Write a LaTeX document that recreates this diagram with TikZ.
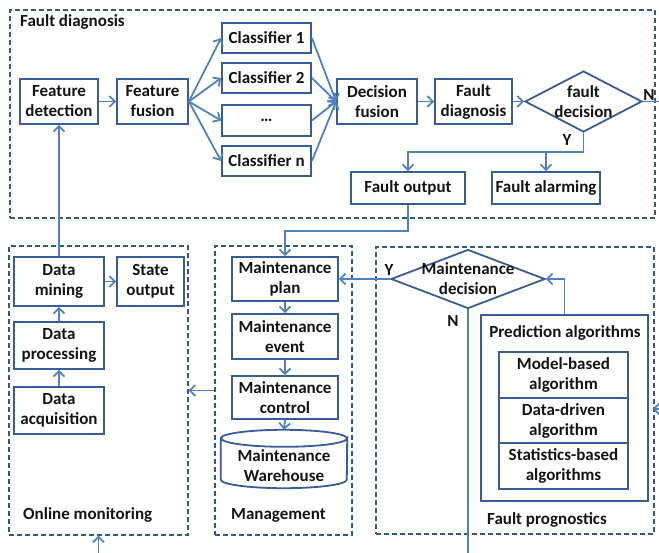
\documentclass[tikz,border=0pt]{standalone}
\usepackage{fontspec}
\setmainfont{Carlito}
\usetikzlibrary{arrows.meta,shapes.geometric,calc}
\definecolor{boxc}{RGB}{56,93,150}
\definecolor{arrc}{RGB}{79,129,189}
\definecolor{dashc}{RGB}{50,88,140}
\definecolor{txtc}{RGB}{20,20,20}
\begin{document}
\begin{tikzpicture}[x=1pt,y=-1pt,
  font=\fontsize{17}{20}\selectfont\bfseries, text=txtc,
  stepbox/.style={draw=boxc,line width=1.8pt,fill=white,align=center,inner sep=0pt},
  dia/.style={diamond,draw=boxc,line width=1.8pt,fill=white,inner sep=0pt},
  grp/.style={draw=dashc,line width=1.3pt,dash pattern=on 5pt off 3pt,inner sep=0pt},
  lbl/.style={inner sep=0pt,align=center},
  arr/.style={draw=arrc,line width=1.8pt,-{Straight Barb[length=5.5pt,width=11pt]}},
  ln/.style={draw=arrc,line width=1.8pt}]
\useasboundingbox (0,0) rectangle (659,552);
% group boxes
\node[grp,minimum width=645,minimum height=208] (fd) at (332.5,114) {};
\node[grp,minimum width=179,minimum height=289] (om) at (98.5,390.5) {};
\node[grp,minimum width=137,minimum height=289] (mg) at (283.5,390.5) {};
\node[grp,minimum width=278,minimum height=287] (fp) at (515,390.5) {};
\node[lbl,anchor=west] (tfd) at (20,22) {Fault diagnosis};
\node[lbl,anchor=west] (tom) at (23,515) {Online monitoring};
\node[lbl,anchor=west] (tmg) at (231,515) {Management};
\node[lbl] (tfp) at (547,520) {Fault prognostics};
% fault diagnosis
\node[stepbox,minimum width=78,minimum height=45] (fdet) at (59,101.5) {Feature\\detection};
\node[stepbox,minimum width=71,minimum height=45] (ffus) at (152.5,101.5) {Feature\\fusion};
\node[stepbox,minimum width=89,minimum height=30] (c1) at (266.5,38) {Classifier 1};
\node[stepbox,minimum width=89,minimum height=30] (c2) at (266.5,78) {Classifier 2};
\node[stepbox,minimum width=89,minimum height=31] (c3) at (266.5,120.5) {\dots};
\node[stepbox,minimum width=89,minimum height=30] (cn) at (266.5,161) {Classifier n};
\node[stepbox,minimum width=80,minimum height=45] (dfus) at (377,101.5) {Decision\\fusion};
\node[stepbox,minimum width=77,minimum height=45] (fdiag) at (473.5,101.5) {Fault\\diagnosis};
\node[dia,minimum width=117,minimum height=61] (fdec) at (583.5,101.5) {};
\node[lbl] (tfdec) at (fdec) {fault\\decision};
\node[stepbox,minimum width=114,minimum height=32] (fout) at (408,188) {Fault output};
\node[stepbox,minimum width=108,minimum height=32] (falarm) at (546,188) {Fault alarming};
\node[lbl] (ny) at (649,95) {N};
\node[lbl] (yy) at (567,140) {Y};
% online monitoring
\node[stepbox,minimum width=90,minimum height=49] (dmin) at (59,281.5) {Data\\mining};
\node[stepbox,minimum width=67,minimum height=49] (sout) at (150.5,281.5) {State\\output};
\node[stepbox,minimum width=90,minimum height=47] (dproc) at (59,345.5) {Data\\processing};
\node[stepbox,minimum width=90,minimum height=47] (dacq) at (59,410.5) {Data\\acquisition};
% management
\node[stepbox,minimum width=106,minimum height=44] (mplan) at (285,279) {Maintenance\\plan};
\node[stepbox,minimum width=106,minimum height=45] (mevent) at (285,336.5) {Maintenance\\event};
\node[stepbox,minimum width=106,minimum height=43] (mctrl) at (285,397.5) {Maintenance\\control};
\node[inner sep=0pt,minimum width=126,minimum height=58] (wh) at (284,459) {};
\draw[draw=boxc,line width=1.8pt,fill=white] ($(wh.north west)+(0,8.5)$) -- ($(wh.south west)+(0,-8.5)$)
  arc[start angle=180,end angle=360,x radius=63,y radius=-8.5] -- ($(wh.north east)+(0,8.5)$)
  arc[start angle=0,end angle=-180,x radius=63,y radius=-8.5] -- cycle;
\draw[draw=boxc,line width=1.8pt] ($(wh.north west)+(0,8.5)$) arc[start angle=180,end angle=360,x radius=63,y radius=8.5];
\node[lbl] (twh) at (284,466) {Maintenance\\Warehouse};
% fault prognostics
\node[dia,minimum width=154,minimum height=59] (mdec) at (468,279) {};
\node[lbl] (tmdec) at (mdec) {Maintenance\\decision};
\node[lbl] (my) at (389,270) {Y};
\node[lbl] (mn) at (453,321) {N};
\node[stepbox,minimum width=167,minimum height=186] (pred) at (564.5,408) {};
\node[lbl] (tpred) at (565,333) {Prediction algorithms};
\node[stepbox,minimum width=129,minimum height=46] (a1) at (563.5,375) {Model-based\\algorithm};
\node[stepbox,minimum width=129,minimum height=45] (a2) at (563.5,420.5) {Data-driven\\algorithm};
\node[stepbox,minimum width=129,minimum height=46] (a3) at (563.5,466) {Statistics-based\\algorithms};
% connectors
\draw[arr] (dmin.north) -- (fdet.south);
\draw[arr] (fdet) -- (ffus);
\foreach \c in {c1,c2,c3,cn}{
  \draw[arr] (ffus.east) -- (\c.west);
  \draw[arr] (\c.east) -- (dfus.west);
}
\draw[arr] (dfus) -- (fdiag);
\draw[arr] (fdiag) -- (fdec.west);
\coordinate (nout) at (662,101.5);
\draw[ln] (fdec.east) -- (nout);
\coordinate (ybr) at (583.5,152);
\draw[ln] (fdec.south) -- (ybr);
\draw[arr] (ybr) -| (fout.north);
\draw[arr] (ybr) -| (falarm.north);
\coordinate (fo1) at (408,231);
\draw[arr] (fout.south) -- (fo1) -| (mplan.north);
\draw[arr] (dacq) -- (dproc);
\draw[arr] (dproc) -- (dmin);
\draw[arr] (dmin) -- (sout);
\draw[arr] (mplan) -- (mevent);
\draw[arr] (mevent) -- (mctrl);
\draw[arr] (mctrl.south) -- (wh.north);
\draw[arr] (mdec.west) -- (mplan.east);
\draw[arr] (pred.north) |- (mdec.east);
\coordinate (nbot) at (468,556);
\draw[ln] (mdec.south) -- (nbot);
\draw[arr] (mg.west) -- (om.east);
\coordinate (botin) at (98.5,556);
\draw[arr] (botin) -- (om.south);
\coordinate (rin) at (675,409);
\coordinate (rtip) at ($(rin -| fp.east)+(-2,0)$);
\draw[arr] (rin) -- (rtip);
\end{tikzpicture}
\end{document}
